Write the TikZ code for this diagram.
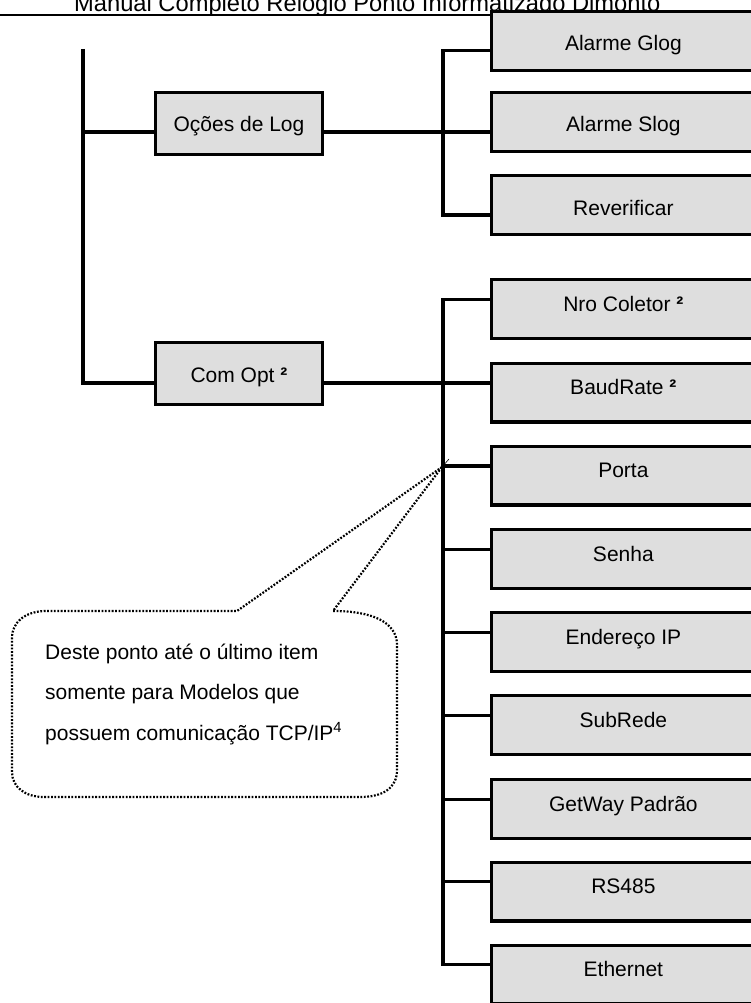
\documentclass[tikz,border=0pt]{standalone}
\usepackage{fontspec}
\setmainfont{Liberation Sans}
\definecolor{boxgray}{RGB}{222,222,222}
\newcommand\boxfont{\fontsize{21}{25}\selectfont}
\newcommand\hdrfont{\fontsize{23.7}{28}\selectfont}
\newcommand\supb{{\bfseries ²}}
\begin{document}
\begin{tikzpicture}[x=1pt,y=-1pt,
  conn/.style={line width=3.4pt},
  lbox/.style={draw, line width=3.3pt, fill=boxgray, anchor=north west,
    minimum width=166.7pt, minimum height=61.7pt, inner sep=0pt, outer sep=0pt,
    font=\boxfont, text height=20pt, text depth=3pt},
  rboxa/.style={draw, line width=3.3pt, fill=boxgray, anchor=north west,
    minimum width=263.4pt, minimum height=58.7pt, inner sep=0pt, outer sep=0pt,
    font=\boxfont, text height=22pt, text depth=2pt},
  rboxb/.style={rboxa, text height=12pt, text depth=8pt},
  dotline/.style={line width=2.2pt, dash pattern=on 1.8pt off 1.6pt},
  txt/.style={anchor=base west, inner sep=0pt, font=\boxfont}]
\useasboundingbox (0,0) rectangle (751,1003);
\clip (0,0) rectangle (751,1003);

% header
\node[anchor=base west, inner sep=0pt, font=\hdrfont] (hdr) at (74,12) {Manual Completo Relógio Ponto Informatizado Dimonto};
\draw[line width=1.6pt] (0,15) -- (490,15);

% left boxes
\node[lbox] (ocoes) at (155.65,92.65) {Oções de Log};
\node[lbox] (comopt) at (155.65,342.65) {Com Opt \supb};

% right boxes
\newcommand\rbx[5]{%
  \node[#4] (#1) at (491.65,#2+1.65) {#3};
  \coordinate (#1-c) at (491.65,#2+#5);}
\rbx{glog}{10}{Alarme Glog}{rboxa}{40.5}
\rbx{slog}{91}{Alarme Slog}{rboxa}{41}
\rbx{rever}{174}{Reverificar}{rboxa}{41}
\rbx{nro}{278}{Nro Coletor \supb}{rboxb}{21.5}
\rbx{baud}{361.5}{BaudRate \supb}{rboxb}{21.5}
\rbx{porta}{444.5}{Porta}{rboxb}{21.5}
\rbx{senha}{528}{Senha}{rboxb}{21.5}
\rbx{endip}{611}{Endereço IP}{rboxb}{21.5}
\rbx{subrede}{694}{SubRede}{rboxb}{21.5}
\rbx{getway}{778}{GetWay Padrão}{rboxb}{21.5}
\rbx{rs}{860.5}{RS485}{rboxb}{21}
\rbx{eth}{943.5}{Ethernet}{rboxb}{21}

\coordinate (rootTop) at (83,49);
\coordinate (tA) at (443,0);

% left trunk
\draw[conn] (rootTop) -- (rootTop |- baud-c) -- (comopt.west |- baud-c);
\draw[conn] (rootTop |- slog-c) -- (ocoes.west |- slog-c);

% top group
\draw[conn] (glog-c) -- (glog-c -| tA) -- (rever-c -| tA) -- (rever-c);
\draw[conn] (ocoes.east |- slog-c) -- (slog-c);

% bottom group
\draw[conn] (nro-c) -- (nro-c -| tA) -- (eth-c -| tA) -- (eth-c);
\draw[conn] (comopt.east |- baud-c) -- (baud-c);
\foreach \n in {porta,senha,endip,subrede,getway,rs}
  \draw[conn] (\n-c -| tA) -- (\n-c);

% callout
\coordinate (tip) at (442,467);
\draw[dotline] (tip) -- (237,611) -- (44,611)
  .. controls (25,612) and (12,622) .. (12,638) -- (12,772)
  .. controls (12,787) and (25,797) .. (44,797) -- (360,797)
  .. controls (383,797) and (397,788) .. (397,770) -- (397,645)
  .. controls (397,622) and (372,611) .. (333,611) -- (tip);
\draw[line width=0.6pt] (tip) -- ++(7,-8);
\node[txt] (cl1) at (45,659) {Deste ponto até o último item};
\node[txt] (cl2) at (45,699.5) {somente para Modelos que};
\node[txt] (cl3) at (45,740) {possuem comunicação TCP/IP\textsuperscript{4}};
\end{tikzpicture}
\end{document}
